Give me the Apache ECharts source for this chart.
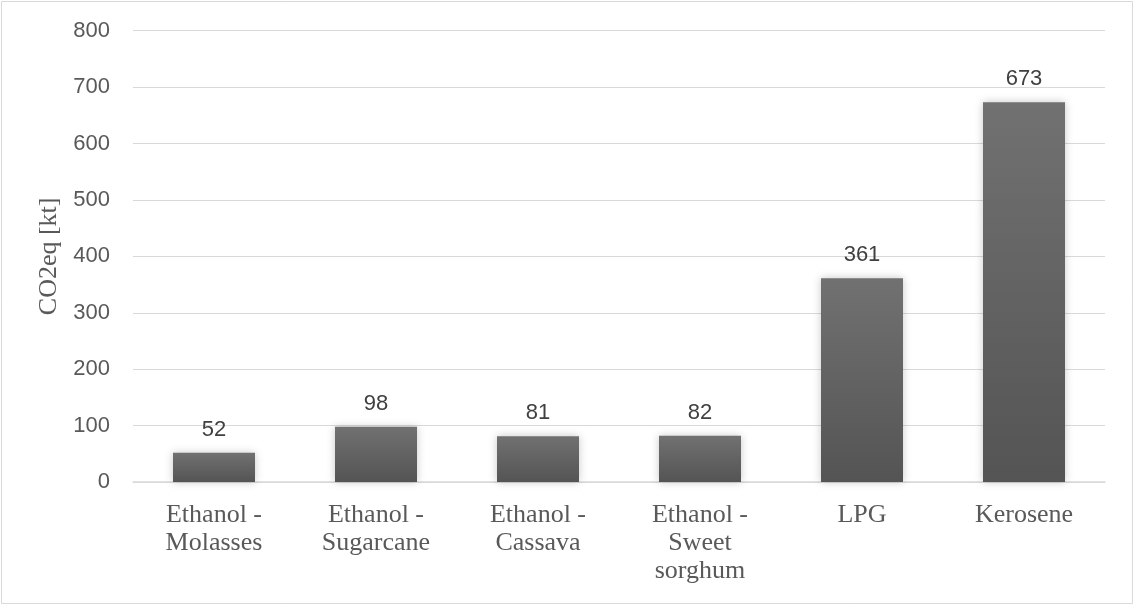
<!DOCTYPE html>
<html>
<head>
<meta charset="utf-8">
<script src="https://cdn.jsdelivr.net/npm/echarts@6/dist/echarts.min.js"></script>
<style>
  html, body { margin: 0; padding: 0; background: #ffffff; }
  #chart { width: 1134px; height: 605px; }
</style>
</head>
<body>
<div id="chart"></div>
<script>
// Fuel categories and their emissions (kt CO2eq)
const categories = [
  'Ethanol -\nMolasses',
  'Ethanol -\nSugarcane',
  'Ethanol -\nCassava',
  'Ethanol -\nSweet\nsorghum',
  'LPG',
  'Kerosene'
];
const emissions = [52, 98, 81, 82, 361, 673];
const axisName = 'CO2eq [kt]';
const yMin = 0, yMax = 800, yStep = 100;

const chart = echarts.init(document.getElementById('chart'), null, { renderer: 'canvas' });

const barFill = new echarts.graphic.LinearGradient(0, 0, 0, 1, [
  { offset: 0, color: '#717171' },
  { offset: 1, color: '#545454' }
]);

chart.setOption({
  animation: false,
  backgroundColor: '#ffffff',
  graphic: [{
    type: 'rect',
    shape: { x: 1.5, y: 1.5, width: 1131, height: 602 },
    style: { fill: 'none', stroke: '#d9d9d9', lineWidth: 1 },
    silent: true
  }],
  grid: { left: 133, right: 29, top: 30.7, bottom: 123, containLabel: false },
  xAxis: {
    type: 'category',
    data: categories,
    axisLine: { show: true, lineStyle: { color: '#d9d9d9', width: 1.5 } },
    axisTick: { show: false },
    axisLabel: {
      interval: 0,
      margin: 19,
      color: '#595959',
      fontFamily: 'Liberation Serif',
      fontSize: 26,
      lineHeight: 28
    }
  },
  yAxis: {
    type: 'value',
    min: yMin,
    max: yMax,
    interval: yStep,
    name: axisName,
    nameLocation: 'middle',
    nameGap: 68,
    nameTextStyle: {
      color: '#595959',
      fontFamily: 'Liberation Serif',
      fontSize: 26
    },
    axisLine: { show: false },
    axisTick: { show: false },
    splitLine: { lineStyle: { color: '#d9d9d9', width: 1.2 } },
    axisLabel: {
      margin: 23,
      color: '#595959',
      fontFamily: 'Liberation Sans',
      fontSize: 22
    }
  },
  series: [{
    type: 'bar',
    data: emissions,
    barWidth: 82,
    itemStyle: {
      color: barFill,
      shadowColor: 'rgba(0,0,0,0.22)',
      shadowBlur: 8,
      shadowOffsetX: 0,
      shadowOffsetY: 0
    },
    label: {
      show: true,
      position: 'top',
      distance: 12,
      color: '#404040',
      fontFamily: 'Liberation Sans',
      fontSize: 22
    }
  }]
});
</script>
</body>
</html>
